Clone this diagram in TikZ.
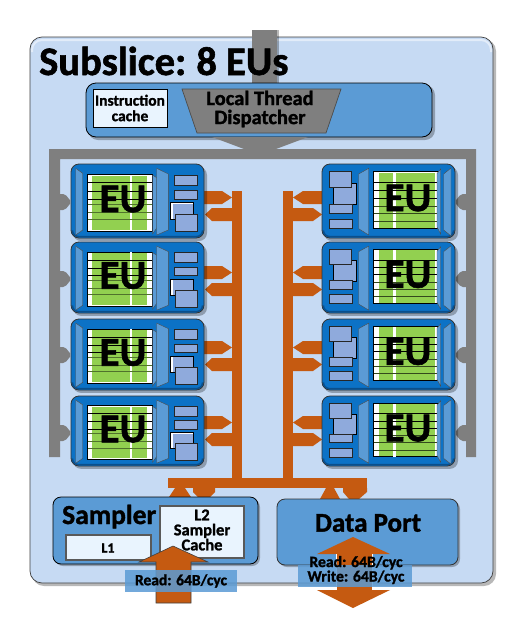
\documentclass[tikz,border=0pt]{standalone}
\usepackage{fontspec}
\setmainfont{Carlito}[BoldFeatures={FakeBold=1.4}]
\usetikzlibrary{calc}
\definecolor{panel}{HTML}{C6DAF3}
\definecolor{midblue}{HTML}{5B9BD5}
\definecolor{eublue}{HTML}{0C72C6}
\definecolor{euedge}{HTML}{0A4F8C}
\definecolor{gry}{HTML}{7F7F7F}
\definecolor{orng}{HTML}{C55A11}
\definecolor{grn}{HTML}{92D050}
\definecolor{smallbox}{HTML}{8FAADC}
\definecolor{capfill}{HTML}{E9F4FE}
\tikzset{
  panelbox/.style={draw=black!75,line width=.7pt,rounded corners=12pt,fill=panel},
  softshadow/.style={fill=black,opacity=.28,draw=none},
  bluebox/.style={draw=black,line width=.8pt,rounded corners=10pt,fill=midblue},
  busshape/.style={fill=orng,draw=none},
  frameshape/.style={fill=gry,draw=none},
  capbox/.style={fill=capfill,draw=black!65,line width=1.6pt},
  minibox/.style={fill=smallbox,draw=black!85,line width=.6pt},
  funnel/.style={fill=midblue,draw=black!70,line width=.4pt},
  eutext/.style={font=\fontsize{41}{41}\selectfont\bfseries,text=black,inner sep=0pt},
  lbl/.style={font=\fontsize{15.5}{15.5}\selectfont\bfseries,text=black,inner sep=0pt,align=center},
  ratebar/.style={fill=midblue,opacity=.85,draw=none},
}
% left-hand EU block: #1 name, #2 x, #3 y, #4 height
\newcommand{\euleft}[4]{%
\begin{scope}[shift={(#2,#3)},yscale=#4/74]
  \fill[softshadow,rounded corners=8pt] (2,3) rectangle (136,77);
  \draw[fill=eublue,draw=black!80,line width=.8pt,rounded corners=8pt] (0,0) rectangle (133,74);
  \draw[euedge,line width=1.4pt,rounded corners=6pt] (1.5,70) -- (1.5,72.5) -- (131.5,72.5) -- (131.5,70);
  \draw[funnel] (4.7,4.3) -- (11.7,9.3) -- (11.7,66) -- (4.7,71) -- cycle;
  \draw[fill=white,draw=black,line width=.7pt] (16.7,10.3) rectangle (81.3,67);
  \fill[grn] (21.3,11.5) rectangle (76.3,66);
  \fill[white] (59,10.8) rectangle (61,66.5);
  \foreach \yy in {32,40,47}{\draw[black!45!grn,line width=.7pt] (16.7,\yy+8) -- (81.3,\yy+8);}
  \foreach \yy in {12.7,21,29}{\draw[black,line width=.7pt] (16.7,\yy+6) -- (81.3,\yy+6);}
  \draw[funnel] (81.5,11) -- (85.7,13.7) -- (85.7,64) -- (81.5,70) -- cycle;
  \draw[funnel] (85.7,4.3) -- (97.3,10) -- (97.3,66) -- (85.7,71) -- cycle;
  \draw[minibox] (103.3,11) rectangle (126.7,21);
  \draw[minibox] (103.3,26) rectangle (126.7,35);
  \draw[fill=white,draw=black,line width=.7pt] (99.7,38.7) rectangle (122.7,55.3);
  \fill[smallbox] (102,40) rectangle (122,55);
  \draw[minibox] (104,50.3) rectangle (126.7,67.7);
  \node[eutext] (#1) at (52,35) {EU};
\end{scope}}
% right-hand EU block
\newcommand{\euright}[4]{%
\begin{scope}[shift={(#2,#3)},yscale=#4/74]
  \fill[softshadow,rounded corners=8pt] (2,3) rectangle (136,77);
  \draw[fill=eublue,draw=black!80,line width=.8pt,rounded corners=8pt] (0,0) rectangle (133,74);
  \draw[euedge,line width=1.4pt,rounded corners=6pt] (1.5,70) -- (1.5,72.5) -- (131.5,72.5) -- (131.5,70);
  \draw[fill=smallbox,draw=black,line width=.6pt] (11.3,19.3) rectangle (34,40.7);
  \draw[minibox] (7.3,7.7) rectangle (29,23.7);
  \draw[minibox] (7.3,40) rectangle (30.7,49.3);
  \draw[minibox] (7.3,55) rectangle (30.7,64.3);
  \draw[funnel] (36.7,10) -- (46.7,4.3) -- (46.7,71) -- (36.7,64.7) -- cycle;
  \draw[fill=white,draw=black,line width=.7pt] (51.7,7.7) rectangle (116.7,64.3);
  \fill[grn] (56.7,8.5) rectangle (113.3,63.5);
  \fill[white] (71,8) rectangle (74,64);
  \foreach \yy in {18.7,26.3,34}{\draw[black,line width=.7pt] (51.7,\yy) -- (116.7,\yy);}
  \foreach \yy in {42,49.3,57}{\draw[black!50!grn!70!black,line width=.7pt] (51.7,\yy) -- (116.7,\yy);}
  \draw[funnel] (115,9.5) -- (118.7,5) -- (118.7,70) -- (115,63) -- cycle;
  \draw[funnel] (121.7,10) -- (129,4) -- (129,72) -- (121.7,66) -- cycle;
  \node[eutext] (#1) at (86,34) {EU};
\end{scope}}
% bus stubs per row (#1 = top y of upper stub)
\newcommand{\stubs}[1]{%
  \fill[busshape] (204,#1) -- (222,#1) -- (232,#1+6.5) -- (222,#1+13) -- (204,#1+13) -- cycle;
  \fill[busshape] (232,#1+17) -- (212,#1+17) -- (205,#1+23.5) -- (212,#1+30) -- (232,#1+30) -- cycle;
  \fill[busshape] (322,#1) -- (303,#1) -- (293,#1+6.5) -- (303,#1+13) -- (322,#1+13) -- cycle;
  \fill[busshape] (293,#1+17) -- (313,#1+17) -- (322,#1+23.5) -- (313,#1+30) -- (293,#1+30) -- cycle;
}
\newcommand{\tabs}[1]{%
  \fill[frameshape,rounded corners=2pt] (58,#1-8) -- (65,#1-8) -- (71.5,#1) -- (65,#1+8) -- (58,#1+8) -- cycle;
  \fill[frameshape,rounded corners=2pt] (468,#1-8) -- (461,#1-8) -- (454.5,#1) -- (461,#1+8) -- (468,#1+8) -- cycle;
}
\begin{document}
\begin{tikzpicture}[x=1pt,y=-1pt]
\useasboundingbox (0,0) rectangle (514,619);
\fill[white] (0,0) rectangle (514,619);
% main panel
\fill[softshadow,rounded corners=12pt] (32,39) rectangle (496,586);
\draw[panelbox] (30,37) rectangle (493,583);
\draw[white,opacity=.5,line width=2pt,rounded corners=10pt] (32,52) -- (32,40) -- (491,40) -- (491,52);
% stem from the top
\fill[softshadow] (254,30) rectangle (279,84);
\fill[frameshape] (252,30) rectangle (277,84);
% top block
\fill[softshadow,rounded corners=10pt] (88,85) rectangle (435,140);
\draw[bluebox] (86,83) rectangle (432,137);
\draw[fill=capfill,draw=black,line width=.8pt] (93,89) rectangle (167,127);
\node[font=\fontsize{15.5}{15.5}\selectfont\bfseries,align=center,inner sep=0pt,text=black] (icache) at (130,108) {Instruction\\cache};
\draw[fill=gry,draw=black!70,line width=.7pt] (182,89) -- (341,89) -- (326,133) -- (197,133) -- cycle;
\node[font=\fontsize{20.5}{19}\selectfont\bfseries,align=center,inner sep=0pt,text=black] (ltd) at (260,109) {Local Thread\\Dispatcher};
% gray frame
\fill[frameshape] (49,457) -- (49,149) -- (476,149) -- (476,457) -- (466,457) -- (466,159) -- (60,159) -- (60,457) -- cycle;
\fill[frameshape] (212,137) -- (308,137) -- (260,155) -- cycle;
\tabs{202}\tabs{279}\tabs{355}\tabs{433}
% orange bus
\fill[busshape] (232,191) rectangle (242,488);
\fill[busshape] (283,191) rectangle (293,488);
\fill[busshape] (168,478) rectangle (367,488);
\stubs{191}\stubs{266}\stubs{341}\stubs{416}
\fill[busshape] (175,488) -- (185,488) -- (191,497) -- (169,497) -- cycle;
\fill[busshape] (193,488) -- (215,488) -- (215,492) -- (209,498) -- (199,498) -- (193,492) -- cycle;
\fill[busshape] (326,488) -- (334,488) -- (340,499) -- (320,499) -- cycle;
\fill[busshape] (343,488) -- (367,488) -- (367,492) -- (359,499) -- (349,499) -- (343,492) -- cycle;
% EU blocks
\euleft{euL1}{71}{164}{74}
\euleft{euL2}{71}{242}{71}
\euleft{euL3}{71}{319}{71}
\euleft{euL4}{71}{396}{70}
\euright{euR1}{322}{164}{74}
\euright{euR2}{322}{242}{71}
\euright{euR3}{322}{319}{71}
\euright{euR4}{322}{396}{70}
% title
\node[font=\fontsize{40.5}{41}\selectfont\bfseries,anchor=base west,inner sep=0pt,text=black] (title) at (39,75) {Subslice:\hspace{-2pt} 8 EUs};
% sampler
\fill[softshadow,rounded corners=8pt] (55,499) rectangle (260,566);
\draw[bluebox,rounded corners=8pt] (53,497) rectangle (258,564);
\node[font=\fontsize{27.5}{27}\selectfont\bfseries,anchor=base west,inner sep=0pt,text=black] (sampler) at (62,524) {Sampler};
\draw[capbox] (66,535) rectangle (151,560);
\node[lbl,font=\fontsize{14}{14}\selectfont\bfseries] (l1) at (108,548) {L1};
\draw[capbox] (160,506) rectangle (244,558);
\node[lbl,font=\fontsize{16.5}{15}\selectfont\bfseries] (l2) at (202,530) {L2\\Sampler\\Cache};
\draw[fill=orng,draw=black!75,line width=.6pt] (173,546) -- (208,562) -- (191,562) -- (191,603) -- (156,603) -- (156,562) -- (139,562) -- cycle;
\fill[ratebar] (125,570) rectangle (237,592);
\node[lbl] (r1) at (181,581) {Read: 64B/cyc};
% data port
\fill[softshadow,rounded corners=8pt] (279,501) rectangle (460,567);
\draw[bluebox,draw=black!80,rounded corners=8pt] (277,499) rectangle (458,565);
\node[font=\fontsize{27}{27}\selectfont\bfseries,inner sep=0pt,text=black] (dp) at (368,523) {Data Port};
\fill[orng] (353,537) -- (390,554) -- (372,554) -- (372,590) -- (390,590) -- (353,608) -- (317,590) -- (336,590) -- (336,554) -- (317,554) -- cycle;
\draw[white,line width=.8pt] (336,554) -- (336,590) (372,554) -- (372,590);
\fill[ratebar] (298,565) rectangle (412,587);
\node[lbl,font=\fontsize{15.7}{14.5}\selectfont\bfseries] (r2) at (356,570) {Read: 64B/cyc\\Write: 64B/cyc};
\end{tikzpicture}
\end{document}
